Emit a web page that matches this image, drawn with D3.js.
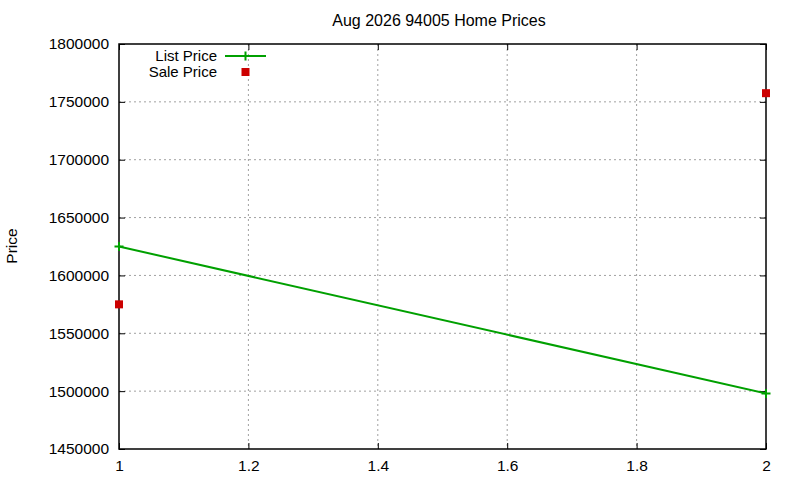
<!DOCTYPE html>
<html>
<head>
<meta charset="utf-8">
<script src="https://cdn.jsdelivr.net/npm/d3@7"></script>
<style>
  body { margin: 0; background: #fff; }
  text { font-family: "Liberation Sans", Arial, sans-serif; fill: #000; }
</style>
</head>
<body>
<svg id="chart" width="800" height="480"></svg>
<script>
// data
var xValues = [1, 2];
var listPrice = [1625000, 1498000];
var salePrice = [1575000, 1757500];
var seriesNames = ["List Price", "Sale Price"];
var xTicks = [1, 1.2, 1.4, 1.6, 1.8, 2];
var yTicks = [1450000, 1500000, 1550000, 1600000, 1650000, 1700000, 1750000, 1800000];
var title = "Aug 2026 94005 Home Prices";
var yLabel = "Price";

var margin = {top: 44, right: 34, bottom: 31, left: 119},
    w = 800 - margin.left - margin.right,
    h = 480 - margin.top - margin.bottom;

var svg = d3.select("#chart");
var g = svg.append("g")
    .attr("transform", "translate(" + margin.left + "," + margin.top + ")");

var xScale = d3.scaleLinear().domain([1, 2]).range([0, w]);
var yScale = d3.scaleLinear().domain([1450000, 1800000]).range([h, 0]);

// grid lines
g.append("g")
    .selectAll("line.gx")
    .data(xTicks.slice(1, -1))
    .enter().append("line")
    .attr("x1", function(d) { return xScale(d); })
    .attr("x2", function(d) { return xScale(d); })
    .attr("y1", 0).attr("y2", h)
    .attr("stroke", "#a0a0a0").attr("stroke-width", 1)
    .attr("stroke-dasharray", "2,3");

g.append("g")
    .selectAll("line.gy")
    .data(yTicks.slice(1, -1))
    .enter().append("line")
    .attr("x1", 0).attr("x2", w)
    .attr("y1", function(d) { return yScale(d); })
    .attr("y2", function(d) { return yScale(d); })
    .attr("stroke", "#a0a0a0").attr("stroke-width", 1)
    .attr("stroke-dasharray", "2,3");

// axes with inward ticks, mirrored
var yAxis = d3.axisLeft(yScale).tickValues(yTicks).tickSize(-6).tickPadding(10).tickFormat(d3.format("d"));
var yAxisR = d3.axisRight(yScale).tickValues(yTicks).tickSize(-6).tickFormat("");
var xAxis = d3.axisBottom(xScale).tickValues(xTicks).tickSize(-6).tickPadding(11).tickFormat(function(d) { return d3.format("")(d); });
var xAxisT = d3.axisTop(xScale).tickValues(xTicks).tickSize(-6).tickFormat("");

function styleAxis(sel) {
  sel.select(".domain").remove();
  sel.selectAll(".tick line").attr("stroke", "#000");
  sel.selectAll("text").style("font-size", "15.5px").attr("font-family", null);
}

g.append("g").call(yAxis).call(styleAxis);
g.append("g").attr("transform", "translate(" + w + ",0)").call(yAxisR).call(styleAxis);
g.append("g").attr("transform", "translate(0," + h + ")").call(xAxis).call(styleAxis);
g.append("g").call(xAxisT).call(styleAxis);

// border
g.append("rect")
    .attr("x", 0).attr("y", 0).attr("width", w).attr("height", h)
    .attr("fill", "none").attr("stroke", "#000").attr("stroke-width", 1.5);

// list price line
var line = d3.line()
    .x(function(d, i) { return xScale(xValues[i]); })
    .y(function(d) { return yScale(d); });

g.append("path")
    .datum(listPrice)
    .attr("d", line)
    .attr("fill", "none")
    .attr("stroke", "#00a000")
    .attr("stroke-width", 2);

function plus(sel, cx, cy) {
  sel.append("path")
     .attr("d", "M" + (cx - 4.5) + "," + cy + "H" + (cx + 4.5) + "M" + cx + "," + (cy - 4.5) + "V" + (cy + 4.5))
     .attr("stroke", "#00a000").attr("stroke-width", 2).attr("fill", "none");
}

listPrice.forEach(function(d, i) {
  plus(g, xScale(xValues[i]), yScale(d));
});

// sale price points
g.selectAll("rect.sale")
    .data(salePrice)
    .enter().append("rect")
    .attr("class", "sale")
    .attr("x", function(d, i) { return xScale(xValues[i]) - 4; })
    .attr("y", function(d) { return yScale(d) - 4; })
    .attr("width", 8).attr("height", 8)
    .attr("fill", "#cc0000");

// legend
var legend = svg.append("g");
legend.append("text")
    .attr("x", 217).attr("y", 55.5).attr("dy", "0.35em")
    .attr("text-anchor", "end").style("font-size", "15px")
    .text(seriesNames[0]);
legend.append("line")
    .attr("x1", 225).attr("x2", 266).attr("y1", 56).attr("y2", 56)
    .attr("stroke", "#00a000").attr("stroke-width", 2);
plus(legend, 245.5, 56);
legend.append("text")
    .attr("x", 217).attr("y", 71.5).attr("dy", "0.35em")
    .attr("text-anchor", "end").style("font-size", "15px")
    .text(seriesNames[1]);
legend.append("rect")
    .attr("x", 241.5).attr("y", 68).attr("width", 8).attr("height", 8)
    .attr("fill", "#cc0000");

// title
svg.append("text")
    .attr("x", 439).attr("y", 26)
    .attr("text-anchor", "middle").style("font-size", "16px")
    .text(title);

// y label
svg.append("text")
    .attr("text-anchor", "middle")
    .attr("transform", "translate(17,246)rotate(-90)")
    .style("font-size", "15.5px")
    .text(yLabel);
</script>
</body>
</html>
